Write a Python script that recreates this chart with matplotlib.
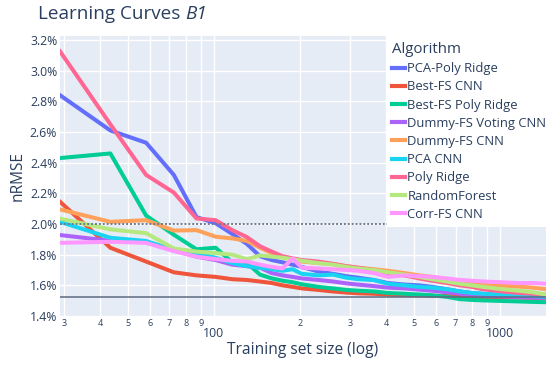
import numpy as np
import matplotlib.pyplot as plt
from matplotlib.ticker import FixedLocator, FixedFormatter

plt.rcParams['font.family'] = ['Open Sans', 'DejaVu Sans']

# training set sizes: fractions of 1450 samples
k = np.array([2, 3, 4, 5, 6, 7, 8, 9, 10, 11, 12, 13, 14, 16, 18, 20, 22, 25,
              28, 32, 36, 40, 45, 50, 55, 60, 70, 80, 90, 100])
sizes = 14.5 * k

pca_poly_ridge = [2.84, 2.61, 2.53, 2.32, 2.045, 2.005, 1.935, 1.87, 1.79, 1.765,
                  1.75, 1.735, 1.72, 1.69, 1.675, 1.66, 1.65, 1.635, 1.615, 1.605,
                  1.60, 1.59, 1.575, 1.56, 1.55, 1.545, 1.535, 1.53, 1.525, 1.52]
best_fs_cnn = [2.145, 1.845, 1.755, 1.685, 1.665, 1.655, 1.64, 1.635, 1.625, 1.615,
               1.60, 1.59, 1.58, 1.57, 1.56, 1.553, 1.548, 1.545, 1.54, 1.537,
               1.535, 1.532, 1.53, 1.528, 1.526, 1.524, 1.522, 1.52, 1.518, 1.515]
best_fs_poly_ridge = [2.43, 2.46, 2.055, 1.93, 1.835, 1.845, 1.75, 1.747, 1.67, 1.645,
                      1.63, 1.62, 1.607, 1.59, 1.58, 1.57, 1.565, 1.56, 1.55, 1.545,
                      1.54, 1.535, 1.525, 1.51, 1.505, 1.502, 1.498, 1.495, 1.492, 1.49]
dummy_voting_cnn = [1.928, 1.89, 1.884, 1.83, 1.787, 1.765, 1.735, 1.725, 1.715, 1.68,
                    1.665, 1.655, 1.645, 1.635, 1.625, 1.613, 1.605, 1.595, 1.585, 1.58,
                    1.572, 1.565, 1.555, 1.545, 1.538, 1.532, 1.528, 1.524, 1.52, 1.518]
dummy_cnn = [2.095, 2.014, 2.025, 1.957, 1.96, 1.917, 1.906, 1.89, 1.845, 1.81,
             1.785, 1.77, 1.755, 1.745, 1.74, 1.725, 1.715, 1.705, 1.695, 1.68,
             1.665, 1.655, 1.64, 1.625, 1.615, 1.605, 1.598, 1.592, 1.585, 1.575]
pca_cnn = [2.014, 1.91, 1.889, 1.83, 1.808, 1.78, 1.745, 1.725, 1.715, 1.705,
           1.695, 1.705, 1.675, 1.665, 1.67, 1.65, 1.64, 1.635, 1.61, 1.60,
           1.59, 1.585, 1.575, 1.56, 1.55, 1.545, 1.54, 1.535, 1.53, 1.525]
poly_ridge = [3.126, 2.65, 2.32, 2.205, 2.036, 2.025, 1.96, 1.915, 1.855, 1.82,
              1.79, 1.776, 1.765, 1.755, 1.74, 1.725, 1.715, 1.70, 1.68, 1.665,
              1.645, 1.63, 1.615, 1.60, 1.59, 1.575, 1.56, 1.55, 1.545, 1.54]
random_forest = [2.035, 1.965, 1.94, 1.84, 1.82, 1.81, 1.80, 1.77, 1.795, 1.787,
                 1.78, 1.77, 1.76, 1.745, 1.735, 1.72, 1.71, 1.70, 1.685, 1.67,
                 1.655, 1.64, 1.625, 1.61, 1.60, 1.59, 1.575, 1.565, 1.555, 1.54]
corr_fs_cnn = [1.877, 1.884, 1.877, 1.823, 1.787, 1.771, 1.76, 1.755, 1.735, 1.72,
               1.71, 1.776, 1.715, 1.71, 1.705, 1.70, 1.695, 1.68, 1.655, 1.665,
               1.66, 1.655, 1.645, 1.635, 1.63, 1.625, 1.62, 1.615, 1.615, 1.61]

series = [
    ("PCA-Poly Ridge", pca_poly_ridge, "#636EFA"),
    ("Best-FS CNN", best_fs_cnn, "#EF553B"),
    ("Best-FS Poly Ridge", best_fs_poly_ridge, "#00CC96"),
    ("Dummy-FS Voting CNN", dummy_voting_cnn, "#AB63FA"),
    ("Dummy-FS CNN", dummy_cnn, "#FFA15A"),
    ("PCA CNN", pca_cnn, "#19D3F3"),
    ("Poly Ridge", poly_ridge, "#FF6692"),
    ("RandomForest", random_forest, "#B6E880"),
    ("Corr-FS CNN", corr_fs_cnn, "#FF97FF"),
]

dotted_level = 2.0
solid_level = 1.524

TXT = "#2a3f5f"

fig = plt.figure(figsize=(5.54, 3.66), dpi=100)
ax = fig.add_axes([60/554, 1-316/366, 486/554, 280/366])
ax.set_facecolor("#E5ECF6")
for s in ax.spines.values():
    s.set_visible(False)

ax.set_xscale("log")
ax.set_xlim(29, 1450)
ax.set_ylim(1.4, 3.226)

ax.xaxis.set_major_locator(FixedLocator([100, 1000]))
ax.xaxis.set_major_formatter(FixedFormatter(["100", "1000"]))
minor = [30, 40, 50, 60, 70, 80, 90, 200, 300, 400, 500, 600, 700, 800, 900]
ax.xaxis.set_minor_locator(FixedLocator(minor))
ax.xaxis.set_minor_formatter(FixedFormatter([str(m)[0] for m in minor]))
ax.tick_params(axis="x", which="major", length=0, pad=8, labelsize=8.8, labelcolor=TXT)
ax.tick_params(axis="x", which="minor", length=0, pad=2.5, labelsize=6.5, labelcolor=TXT)

yt = np.arange(1.4, 3.21, 0.2)
ax.set_yticks(yt)
ax.set_yticklabels([f"{v:.1f}%" for v in yt])
ax.tick_params(axis="y", length=0, pad=2, labelsize=8.8, labelcolor=TXT)

ax.grid(True, which="both", color="white", lw=1)
ax.set_axisbelow(True)

for name, vals, col in series:
    ax.plot(sizes, vals, color=col, lw=2.9, label=name, solid_joinstyle="round")

ax.axhline(dotted_level, color="#6f7c90", lw=1.4, ls=(0, (1, 1)), zorder=3)
ax.axhline(solid_level, color="#5b6a82", lw=1.1, zorder=3)

leg = ax.legend(loc="upper left", bbox_to_anchor=(0.672, 1.0), borderaxespad=0,
                title="Algorithm", fontsize=9.4, title_fontsize=10.8,
                frameon=True, facecolor="white", edgecolor="none", framealpha=1,
                fancybox=False, handlelength=0.95, handletextpad=0.2,
                labelspacing=0.4, borderpad=0.45)
leg._legend_box.align = "left"
for t in leg.get_texts():
    t.set_color(TXT)
leg.get_title().set_color(TXT)
for h in leg.get_lines():
    h.set_linewidth(3)

t1 = fig.text(38/554, 1-14/366, "Learning Curves ", fontsize=13.6, color=TXT,
              ha="left", va="center")
fig.canvas.draw()
bb = t1.get_window_extent()
fig.text(bb.x1/554, 1-14/366, "B1", fontsize=13.6, color=TXT, style="italic",
         ha="left", va="center")
fig.text(303/554, 1-350/366, "Training set size (log)", fontsize=11.2, color=TXT,
         ha="center", va="center")
fig.text(18/554, 1-176/366, "nRMSE", fontsize=11.2, color=TXT, rotation=90,
         ha="center", va="center")

fig.savefig("out.png", dpi=100)
